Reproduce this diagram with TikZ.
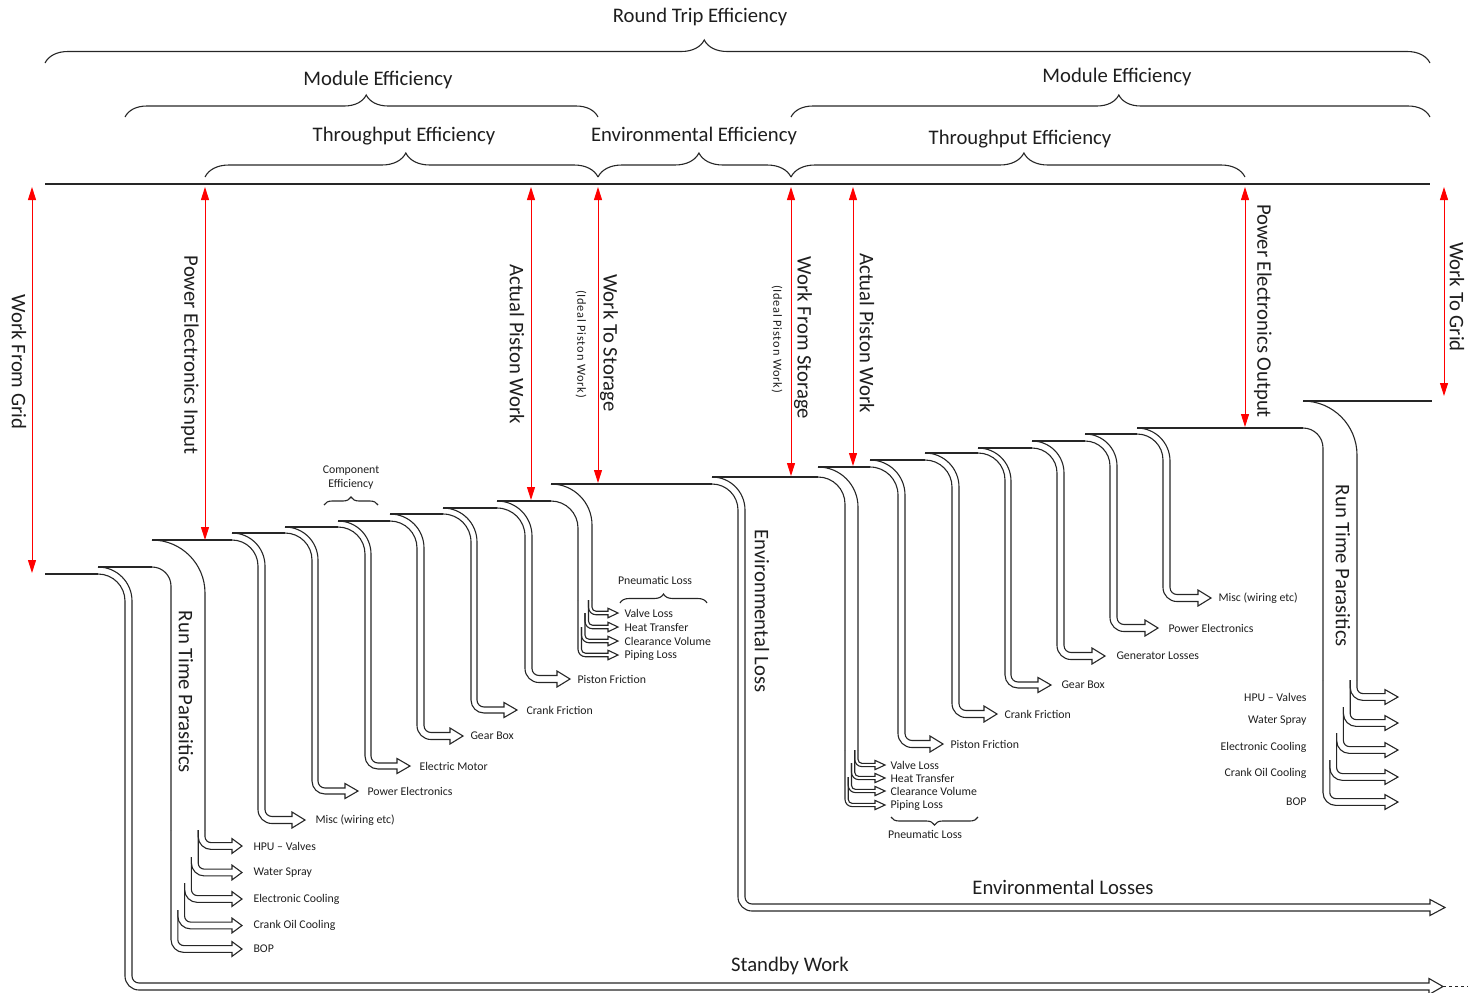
\documentclass[tikz,border=0pt]{standalone}
\usepackage{fontspec}
\setmainfont{Carlito}
\newfontfamily\spacedfont[LetterSpace=6]{Carlito}
\usetikzlibrary{arrows.meta,decorations.pathreplacing}
\definecolor{linegray}{RGB}{38,38,38}
\definecolor{textgray}{RGB}{30,30,30}

% arrow head and lower bend of the loss flows
\newcommand{\headlen}{13}
\newcommand{\headw}{4.5}
\newcommand{\bendr}{7}

% loss leaving a level: corner x, upper level, lower level, left edge x, width, arrow y, tip x
\newcommand{\lossband}[7]{%
  \pgfmathsetmacro\bXo{#4+#5}%
  \pgfmathsetmacro\bRo{#4+#5-#1}%
  \pgfmathsetmacro\bRi{#4-#1}%
  \pgfmathsetmacro\bYa{#6-#5/2}%
  \pgfmathsetmacro\bYb{#6+#5/2}%
  \pgfmathsetmacro\bXh{#7-\headlen}%
  \pgfmathsetmacro\bRb{\bendr+#5}%
  \draw[flow] (#1,#2) arc[start angle=-90,end angle=0,radius=\bRo]
    -- (\bXo,\bYa-\bendr) arc[start angle=180,end angle=90,radius=\bendr]
    -- (\bXh,\bYa) -- (\bXh,\bYa-\headw) -- (#7,#6) -- (\bXh,\bYb+\headw) -- (\bXh,\bYb)
    -- (\bXo+\bendr,\bYb) arc[start angle=90,end angle=180,radius=\bRb]
    -- (#4,#3+\bRi) arc[start angle=0,end angle=-90,radius=\bRi];
}
% loss that splits lower down: corner x, upper level, lower level, left edge x, width, end y
\newcommand{\splitband}[6]{%
  \pgfmathsetmacro\bRo{#4+#5-#1}%
  \pgfmathsetmacro\bRi{#4-#1}%
  \draw[flow] (#1,#2) arc[start angle=-90,end angle=0,radius=\bRo] -- (#4+#5,#6)
              (#1,#3) arc[start angle=-90,end angle=0,radius=\bRi] -- (#4,#6);
}
% one branch of a split: left edge x, width, start of right edge, start of left edge, arrow y, tip x
\newcommand{\branch}[6]{%
  \pgfmathsetmacro\bXo{#1+#2}%
  \pgfmathsetmacro\bYa{#5-#2/2}%
  \pgfmathsetmacro\bYb{#5+#2/2}%
  \pgfmathsetmacro\bXh{#6-\headlen}%
  \pgfmathsetmacro\bRb{\bendr+#2}%
  \draw[flow] (\bXo,#3) -- (\bXo,\bYa-\bendr) arc[start angle=180,end angle=90,radius=\bendr]
    -- (\bXh,\bYa) -- (\bXh,\bYa-\headw) -- (#6,#5) -- (\bXh,\bYb+\headw) -- (\bXh,\bYb)
    -- (\bXo+\bendr,\bYb) arc[start angle=90,end angle=180,radius=\bRb] -- (#1,#4);
}

\begin{document}
\begin{tikzpicture}[x=1pt,y=-1pt,
    flow/.style={draw=linegray,line width=1.1pt},
    measure/.style={draw=red,line width=1pt,>={Triangle[length=13pt,width=8pt]},<->},
    effbrace/.style 2 args={draw=linegray,line width=1.1pt,decorate,
                            decoration={brace,amplitude=#1,aspect=#2}},
    biglabel/.style={text=textgray,font=\fontsize{20.7}{24}\selectfont},
    vlabel/.style={biglabel,rotate=-90},
    smalllabel/.style={text=textgray,font=\fontsize{11.8}{14}\selectfont,anchor=west},
    smallright/.style={smalllabel,anchor=east},
    idealnote/.style={text=textgray,font=\spacedfont\fontsize{12.4}{14}\selectfont,rotate=-90}
]
\useasboundingbox (0,0) rectangle (1470,993);

% efficiency braces
\draw[effbrace={23pt}{0.476}] (45,63) -- (1430,63);
\draw[effbrace={22pt}{0.51}] (125,117) -- (598,117);
\draw[effbrace={22pt}{0.513}] (791,117) -- (1430,117);
\draw[effbrace={24pt}{0.511}] (205,177) -- (598,177);
\draw[effbrace={24pt}{0.523}] (598,177) -- (791,177);
\draw[effbrace={24pt}{0.513}] (791,177) -- (1245,177);
\node[biglabel] (roundtrip) at (700,17) {Round Trip Efficiency};
\node[biglabel] (modulein) at (378,80) {Module Efficiency};
\node[biglabel] (moduleout) at (1117,77) {Module Efficiency};
\node[biglabel] (thruin) at (404,136) {Throughput Efficiency};
\node[biglabel] (environ) at (694,136) {Environmental Efficiency};
\node[biglabel] (thruout) at (1020,139) {Throughput Efficiency};

% reference line and energy levels
\draw[flow] (45,184) -- (1430,184);
\foreach \xa/\xb/\yl in {45/98/574, 98/152/567, 152/232/540, 232/285/533, 285/338/527,
    338/390/521, 390/443/514, 443/497/508, 497/551/501, 551/712/484, 712/818/477,
    818/870/467, 870/925/460, 925/978/453, 978/1032/448, 1032/1085/441,
    1085/1137/434, 1137/1303/428, 1303/1432/401}
  \draw[flow] (\xa,\yl) -- (\xb,\yl);

% red work arrows
\foreach \x/\yb in {32/573, 205/540, 531/500, 598/483, 791/476, 853/466, 1245/427, 1444/396}
  \draw[measure] (\x,187) -- (\x,\yb);
\node[vlabel] (fromgrid) at (19,362) {Work From Grid};
\node[vlabel] (peinput) at (190,355) {Power Electronics Input};
\node[vlabel] (pistonin) at (517,344) {Actual Piston Work};
\node[vlabel] (tostorage) at (609,343) {Work To Storage};
\node[idealnote] (idealin) at (581,344) {(Ideal Piston Work)};
\node[vlabel] (fromstorage) at (803,338) {Work From Storage};
\node[idealnote] (idealout) at (777,339) {(Ideal Piston Work)};
\node[vlabel] (pistonout) at (867,333) {Actual Piston Work};
\node[vlabel] (peoutput) at (1263,311) {Power Electronics Output};
\node[vlabel] (togrid) at (1457,297) {Work To Grid};

% standby and environmental losses
\renewcommand{\headlen}{14}
\lossband{98}{567}{574}{125}{7}{986.5}{1443}
\coordinate (standbytip) at (1443,986.5);
\draw[flow,dashed] (standbytip) -- (1468,986.5);
\node[biglabel] (standby) at (790,966) {Standby Work};
\renewcommand{\headlen}{15}
\lossband{712}{477}{484}{738}{7}{907.5}{1445}
\node[biglabel] (envlosses) at (1063,887) {Environmental Losses};
\node[vlabel] (envloss) at (762,611) {Environmental Loss};

% charging side losses
\renewcommand{\headlen}{13}
\lossband{232}{533}{540}{258}{7}{820}{305}
\lossband{285}{527}{533}{312}{6}{791}{358}
\lossband{338}{521}{527}{365}{6}{766}{410}
\lossband{390}{514}{521}{417}{7}{736}{463}
\lossband{443}{508}{514}{471}{6}{710}{517}
\lossband{497}{501}{508}{525}{7}{679}{570}
\node[smalllabel] (miscin) at (312,820) {Misc (wiring etc)};
\node[smalllabel] (pein) at (364,791) {Power Electronics};
\node[smalllabel] (motor) at (416,766) {Electric Motor};
\node[smalllabel] (gearin) at (467,736) {Gear Box};
\node[smalllabel] (crankin) at (523,710) {Crank Friction};
\node[smalllabel] (frictionin) at (574,679) {Piston Friction};
\draw[effbrace={8pt}{0.5}] (324,505) -- (378,505);
\node[text=textgray,font=\fontsize{11.8}{14}\selectfont,align=center] (component) at (351,478) {Component\\Efficiency};

% run time parasitics while charging
\splitband{152}{540}{567}{171}{34}{830}
\renewcommand{\headlen}{10}
\renewcommand{\headw}{4}
\renewcommand{\bendr}{6}
\branch{198.2}{6.8}{830}{830}{846}{242}
\branch{191.4}{6.8}{830}{857}{872.5}{242}
\branch{184.6}{6.8}{857}{883}{899}{242}
\branch{177.8}{6.8}{883}{910}{925.5}{242}
\branch{171}{6.8}{910}{830}{949}{242}
\node[smalllabel] (hpuin) at (250,846) {HPU – Valves};
\node[smalllabel] (sprayin) at (250,872.5) {Water Spray};
\node[smalllabel] (coolin) at (250,899) {Electronic Cooling};
\node[smalllabel] (oilin) at (250,925.5) {Crank Oil Cooling};
\node[smalllabel] (bopin) at (250,949) {BOP};
\node[vlabel] (rtpin) at (186,692) {Run Time Parasitics};

% pneumatic losses while charging
\splitband{551}{484}{501}{578}{14}{600}
\renewcommand{\headw}{3}
\renewcommand{\bendr}{4}
\branch{588.5}{3.5}{600}{600}{613}{618}
\branch{585}{3.5}{600}{613}{627}{618}
\branch{581.5}{3.5}{613}{627}{641}{618}
\branch{578}{3.5}{627}{600}{655}{618}
\node[smalllabel] (valvein) at (621,613) {Valve Loss};
\node[smalllabel] (heatin) at (621,627) {Heat Transfer};
\node[smalllabel] (clearin) at (621,641) {Clearance Volume};
\node[smalllabel] (pipein) at (621,655) {Piping Loss};
\draw[effbrace={9pt}{0.5}] (620,603) -- (707,603);
\node[text=textgray,font=\fontsize{11.8}{14}\selectfont] (pneuin) at (655,580) {Pneumatic Loss};

% pneumatic losses while discharging
\splitband{818}{467}{477}{845}{13}{750}
\branch{854.75}{3.25}{750}{750}{765}{885}
\branch{851.5}{3.25}{750}{763}{778}{885}
\branch{848.25}{3.25}{763}{777}{791}{885}
\branch{845}{3.25}{777}{750}{805}{885}
\node[smalllabel] (valveout) at (887,765) {Valve Loss};
\node[smalllabel] (heatout) at (887,778) {Heat Transfer};
\node[smalllabel] (clearout) at (887,791) {Clearance Volume};
\node[smalllabel] (pipeout) at (887,805) {Piping Loss};
\draw[effbrace={8pt}{0.5}] (978,817) -- (891,817);
\node[text=textgray,font=\fontsize{11.8}{14}\selectfont] (pneuout) at (925,834) {Pneumatic Loss};

% discharging side losses
\renewcommand{\headlen}{13}
\renewcommand{\headw}{4.5}
\renewcommand{\bendr}{7}
\lossband{870}{460}{467}{898}{7}{744}{943}
\lossband{925}{453}{460}{952}{7}{714}{997}
\lossband{978}{448}{453}{1005}{6}{685}{1051}
\lossband{1032}{441}{448}{1057}{7}{656}{1105}
\lossband{1085}{434}{441}{1110}{7}{628}{1158}
\lossband{1137}{428}{434}{1163}{7}{598}{1211}
\node[smalllabel] (frictionout) at (947,744) {Piston Friction};
\node[smalllabel] (crankout) at (1001,714) {Crank Friction};
\node[smalllabel] (gearout) at (1058,685) {Gear Box};
\node[smalllabel] (generator) at (1113,656) {Generator Losses};
\node[smalllabel] (peout) at (1165,628) {Power Electronics};
\node[smalllabel] (miscout) at (1215,598) {Misc (wiring etc)};

% run time parasitics while discharging
\splitband{1303}{401}{428}{1323}{34}{680}
\renewcommand{\headw}{4}
\renewcommand{\bendr}{6}
\branch{1350.2}{6.8}{680}{680}{697}{1398}
\branch{1343.4}{6.8}{680}{707}{723}{1398}
\branch{1336.6}{6.8}{707}{733}{750}{1398}
\branch{1329.8}{6.8}{733}{760}{777}{1398}
\branch{1323}{6.8}{760}{680}{802}{1398}
\node[smallright] (hpuout) at (1310,697) {HPU – Valves};
\node[smallright] (sprayout) at (1310,721) {Water Spray};
\node[smallright] (coolout) at (1310,747) {Electronic Cooling};
\node[smallright] (oilout) at (1310,773) {Crank Oil Cooling};
\node[smallright] (bopout) at (1310,802) {BOP};
\node[vlabel] (rtpout) at (1343,566) {Run Time Parasitics};
\end{tikzpicture}
\end{document}
